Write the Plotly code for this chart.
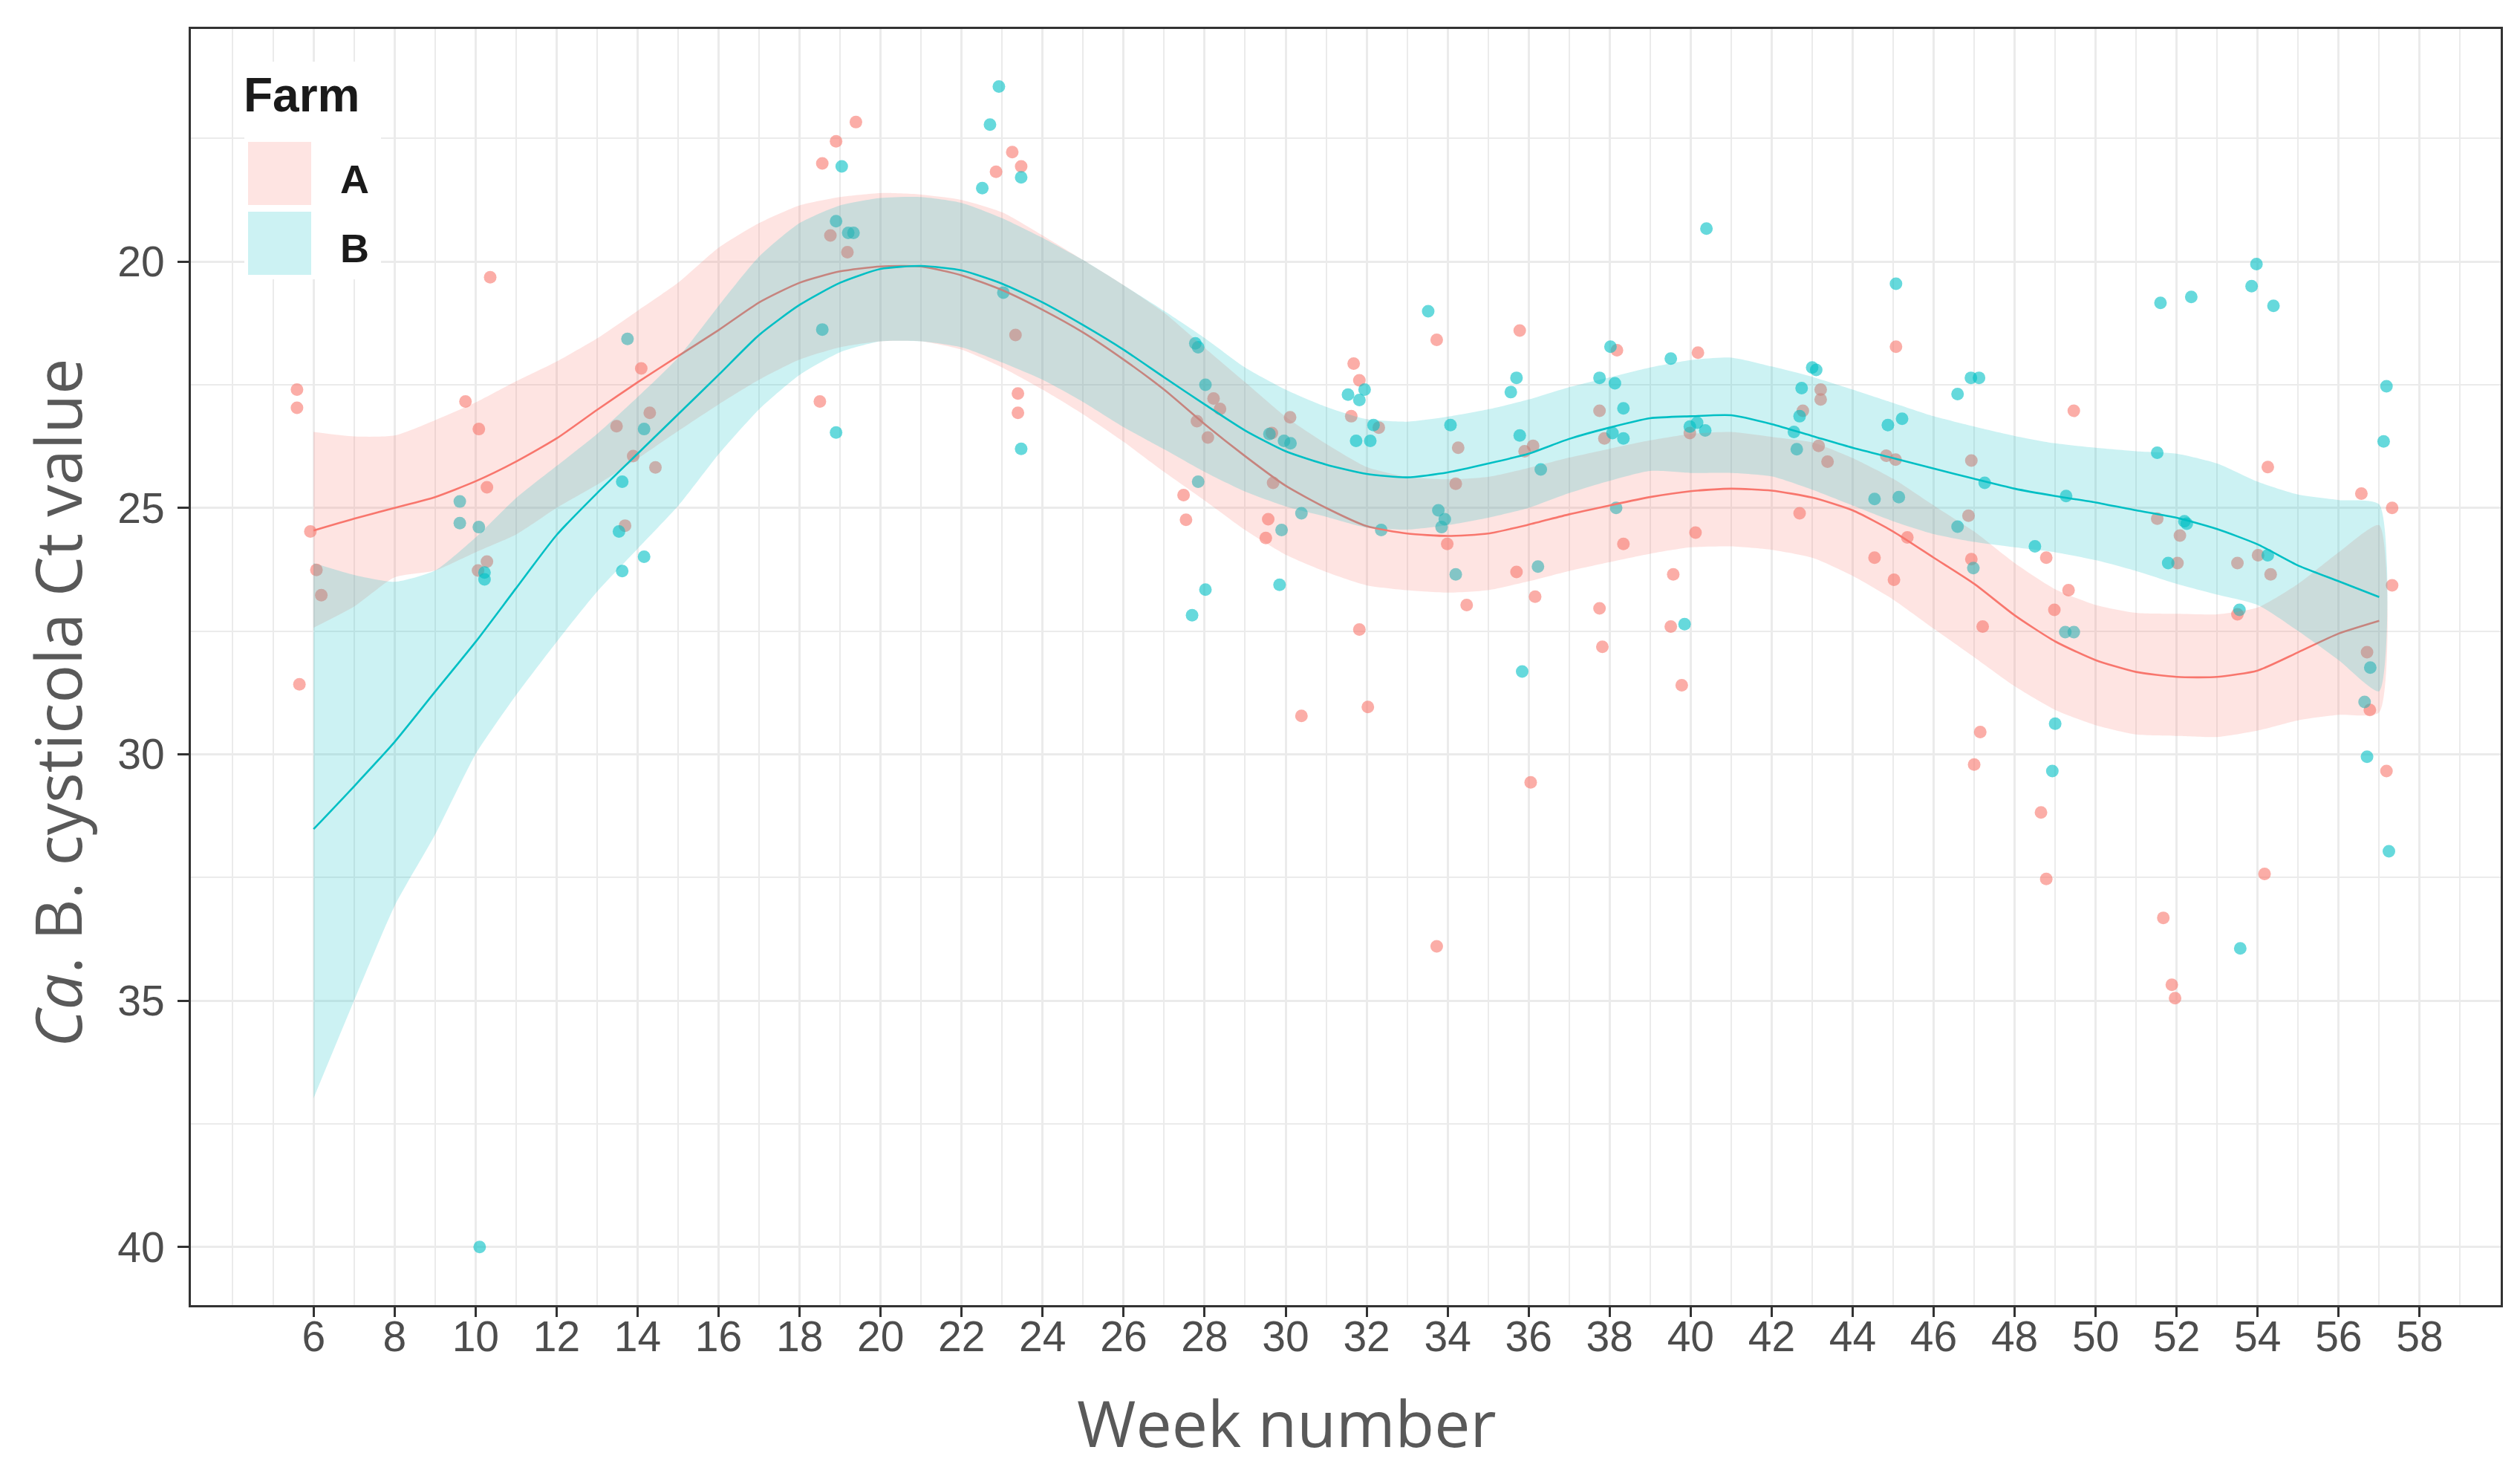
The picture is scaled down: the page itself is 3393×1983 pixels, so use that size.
import plotly.graph_objects as go

# ---------------- data ----------------
# jittered observations (week, Ct)
a_week = [5.59, 5.59, 5.65, 5.92, 6.07, 6.19,
          10.36, 9.75, 10.08, 10.28, 10.28, 10.06,
          14.09, 14.30, 13.48, 13.89, 14.44, 13.69,
          19.39, 18.90, 18.56, 18.76, 19.18, 18.50,
          23.25, 23.47, 22.85, 23.33, 23.39, 23.39,
          28.22, 28.38, 27.81, 28.08, 27.48, 27.54,
          29.66, 30.11, 29.69, 29.57, 29.51, 30.39,
          31.68, 31.82, 31.62, 32.30, 31.82, 32.03,
          33.73, 34.26, 34.20, 33.99, 34.47, 33.73,
          35.78, 35.90, 36.11, 35.70, 36.16, 36.05,
          38.18, 37.75, 37.87, 38.34, 37.75, 37.82,
          40.18, 39.98, 40.12, 39.57, 39.51, 39.78,
          43.21, 43.21, 42.77, 43.16, 43.38, 42.69,
          45.07, 44.83, 45.06, 45.35, 44.54, 45.02,
          46.93, 46.86, 46.93, 47.21, 47.15, 47.00,
          49.46, 48.78, 49.33, 48.98, 48.65, 48.78,
          51.52, 52.08, 52.02, 51.67, 51.88, 51.96,
          54.25, 53.50, 54.01, 54.32, 53.50, 54.17,
          56.56, 57.32, 57.32, 56.70, 56.77, 57.18]
a_ct = [22.60, 22.97, 28.58, 25.48, 26.26, 26.77,
        20.32, 22.84, 23.40, 24.58, 26.09, 26.27,
        22.17, 23.07, 23.34, 23.95, 24.18, 25.36,
        17.17, 17.56, 18.01, 19.47, 19.81, 22.84,
        17.78, 18.07, 18.18, 21.49, 22.68, 23.07,
        22.78, 22.99, 23.24, 23.57, 24.74, 25.24,
        23.48, 23.16, 24.49, 25.23, 25.61, 29.22,
        22.07, 22.41, 23.14, 23.37, 27.47, 29.04,
        21.59, 23.78, 24.51, 25.73, 26.97, 33.90,
        21.40, 23.85, 23.74, 26.30, 26.80, 30.57,
        21.80, 23.03, 23.59, 25.73, 27.04, 27.82,
        21.85, 23.48, 25.50, 26.35, 27.41, 28.60,
        22.60, 22.80, 23.03, 23.74, 24.06, 25.11,
        21.73, 23.94, 24.02, 25.60, 26.01, 26.46,
        24.04, 25.16, 26.04, 27.41, 29.55, 30.21,
        23.03, 26.01, 26.67, 27.07, 31.18, 32.53,
        25.22, 25.56, 26.12, 33.32, 34.68, 34.95,
        24.17, 26.12, 25.96, 26.35, 27.16, 32.43,
        24.71, 25.00, 26.57, 27.93, 29.10, 30.34]

b_week = [10.10, 9.61, 9.61, 10.08, 10.22, 10.22,
          13.75, 14.16, 13.62, 13.54, 14.16, 13.62,
          19.04, 18.90, 19.20, 19.33, 18.56, 18.90,
          22.92, 22.70, 23.47, 22.51, 23.03, 23.47,
          27.77, 27.84, 28.02, 27.84, 28.02, 27.69,
          29.60, 29.96, 30.12, 29.90, 30.39, 29.85,
          31.54, 31.95, 31.82, 32.17, 31.74, 32.09, 32.36,
          33.52, 34.07, 33.77, 33.93, 33.85, 34.20,
          35.70, 35.56, 35.78, 36.30, 36.23, 35.84,
          38.02, 37.75, 38.13, 38.34, 38.07, 38.34, 38.16,
          40.39, 39.51, 39.98, 40.16, 40.36, 39.85,
          43.00, 43.10, 42.74, 42.69, 42.55, 42.62,
          45.07, 44.87, 45.22, 44.54, 45.14,
          46.59, 46.92, 47.12, 47.26, 46.59, 46.98,
          49.27, 48.50, 49.25, 49.46, 49.00, 48.93,
          51.60, 52.36, 51.52, 52.19, 52.25, 51.79,
          53.97, 53.85, 54.39, 54.25, 53.55, 53.57,
          57.18, 57.11, 56.78, 56.64, 56.70, 57.24]
b_ct = [40.00, 24.87, 25.31, 25.39, 26.31, 26.45,
        21.57, 23.40, 24.47, 25.48, 25.99, 26.28,
        18.07, 19.18, 19.42, 19.42, 21.38, 23.47,
        16.45, 17.22, 18.29, 18.51, 20.63, 23.80,
        21.66, 21.74, 22.50, 24.47, 26.66, 27.18,
        23.50, 23.64, 23.69, 25.45, 25.11, 26.56,
        22.70, 22.60, 22.81, 23.32, 23.64, 23.64, 25.45,
        21.01, 23.32, 25.05, 25.23, 25.39, 26.35,
        22.36, 22.65, 23.53, 24.22, 26.19, 28.32,
        21.73, 22.36, 22.47, 22.98, 23.48, 23.59, 25.00,
        19.33, 21.97, 23.35, 23.27, 23.43, 27.36,
        22.15, 22.20, 22.57, 23.14, 23.46, 23.81,
        20.45, 23.32, 23.19, 24.82, 24.78,
        22.69, 22.36, 22.36, 24.49, 25.38, 26.22,
        24.76, 25.78, 27.52, 27.52, 29.38, 30.34,
        20.84, 20.72, 23.88, 25.27, 25.32, 26.12,
        20.05, 20.50, 20.90, 25.96, 27.07, 33.94,
        22.53, 23.65, 28.24, 28.94, 30.05, 31.97]

# loess fits (week grid, fit, lower/upper edge of CI)
fit_week = list(range(6, 58))
a_fit = [25.46, 25.22, 25.00, 24.78, 24.46, 24.06, 23.59, 23.01, 22.45, 21.92,
         21.39, 20.83, 20.43, 20.20, 20.10, 20.10, 20.28, 20.58, 20.98, 21.44,
         21.99, 22.60, 23.30, 23.95, 24.55, 25.00, 25.37, 25.52, 25.57, 25.52,
         25.34, 25.13, 24.95, 24.78, 24.66, 24.61, 24.65, 24.79, 25.05, 25.48,
         26.01, 26.54, 27.18, 27.71, 28.09, 28.33, 28.43, 28.43, 28.30, 27.93,
         27.55, 27.29]
a_lo = [23.46, 23.55, 23.53, 23.22, 22.86, 22.43, 22.03, 21.56, 21.00, 20.43,
        19.72, 19.22, 18.86, 18.69, 18.61, 18.64, 18.75, 19.00, 19.47, 19.97,
        20.48, 21.04, 21.75, 22.45, 23.15, 23.70, 24.17, 24.37, 24.42, 24.37,
        24.19, 23.98, 23.80, 23.63, 23.50, 23.46, 23.56, 23.67, 23.99, 24.41,
        24.95, 25.48, 26.12, 26.65, 26.97, 27.13, 27.15, 27.16, 27.02, 26.54,
        25.90, 25.35]
a_hi = [27.43, 27.00, 26.41, 26.27, 25.90, 25.54, 25.00, 24.53, 24.00, 23.44,
        22.90, 22.40, 21.99, 21.74, 21.62, 21.62, 21.79, 22.15, 22.60, 23.10,
        23.66, 24.27, 24.85, 25.45, 25.95, 26.30, 26.57, 26.67, 26.72, 26.67,
        26.49, 26.28, 26.10, 25.93, 25.80, 25.78, 25.85, 26.01, 26.38, 26.86,
        27.45, 28.03, 28.62, 29.10, 29.41, 29.60, 29.63, 29.65, 29.52, 29.31,
        29.20, 29.15]

b_fit = [31.52, 30.65, 29.75, 28.73, 27.72, 26.63, 25.55, 24.70, 23.90, 23.10,
         22.30, 21.49, 20.88, 20.43, 20.15, 20.09, 20.18, 20.45, 20.83, 21.29,
         21.79, 22.35, 22.90, 23.43, 23.85, 24.12, 24.31, 24.38, 24.28, 24.10,
         23.90, 23.60, 23.37, 23.18, 23.14, 23.12, 23.30, 23.54, 23.78, 23.99,
         24.20, 24.41, 24.61, 24.76, 24.89, 25.05, 25.20, 25.43, 25.74, 26.17,
         26.49, 26.81]
b_lo = [26.12, 26.36, 26.50, 26.27, 25.60, 24.80, 24.15, 23.50, 22.75, 21.95,
        20.90, 19.90, 19.22, 18.86, 18.71, 18.69, 18.81, 19.12, 19.52, 19.97,
        20.48, 21.00, 21.55, 22.15, 22.60, 22.95, 23.20, 23.25, 23.15, 23.00,
        22.80, 22.55, 22.35, 22.15, 22.00, 21.95, 22.13, 22.34, 22.60, 22.87,
        23.14, 23.35, 23.54, 23.69, 23.78, 23.85, 23.90, 24.10, 24.47, 24.73,
        24.84, 24.93]
b_hi = [36.98, 35.00, 33.08, 31.63, 30.00, 28.80, 27.72, 26.70, 25.83, 24.96,
        23.91, 23.00, 22.30, 21.84, 21.62, 21.62, 21.74, 22.05, 22.40, 22.85,
        23.36, 23.81, 24.27, 24.67, 24.97, 25.18, 25.40, 25.44, 25.35, 25.20,
        25.00, 24.70, 24.45, 24.25, 24.29, 24.29, 24.36, 24.63, 24.95, 25.27,
        25.53, 25.69, 25.80, 25.90, 26.06, 26.28, 26.54, 26.76, 26.97, 27.50,
        28.09, 28.72]

x_ticks = list(range(6, 59, 2))
x_minor = list(range(4, 61))
y_ticks = [20, 25, 30, 35, 40]
y_minor = [17.5, 22.5, 27.5, 32.5, 37.5]
farms = ["A", "B"]
colors = {"A": "#F8766D", "B": "#00BFC4"}
fills = {"A": "rgba(248,118,109,0.2)", "B": "rgba(0,191,196,0.2)"}

# ---------------- figure ----------------
fig = go.Figure()
pts = {"A": (a_week, a_ct), "B": (b_week, b_ct)}
for f in farms:
    fig.add_trace(go.Scatter(x=pts[f][0], y=pts[f][1], mode="markers",
                             marker=dict(color=colors[f], size=17, opacity=0.6,
                                         line=dict(width=0)),
                             showlegend=False, hoverinfo="skip"))

fits = {"A": (a_fit, a_lo, a_hi), "B": (b_fit, b_lo, b_hi)}
for f in farms:
    fit, lo, hi = fits[f]
    fig.add_trace(go.Scatter(x=fit_week + fit_week[::-1], y=lo + hi[::-1],
                             mode="lines", fill="toself", fillcolor=fills[f],
                             line=dict(width=0, shape="spline", smoothing=0.6),
                             showlegend=False, hoverinfo="skip"))
    fig.add_trace(go.Scatter(x=fit_week, y=fit, mode="lines",
                             line=dict(color=colors[f], width=2.6,
                                       shape="spline", smoothing=0.6),
                             showlegend=False, hoverinfo="skip"))

W, H = 3393, 1983
L, R, T, B = 257, 26, 39, 226
pw, ph = W - L - R, H - T - B


def px(xo):
    return (xo - L) / pw


def py(yo):
    return 1 - (yo - T) / ph


tick_font = dict(family="Liberation Sans, Arial, sans-serif", size=57, color="#4D4D4D")
title_font = dict(family="Open Sans, sans-serif", size=86, color="#595959")

fig.update_layout(
    width=W, height=H,
    margin=dict(l=L, r=R, t=T, b=B),
    paper_bgcolor="white", plot_bgcolor="white",
    showlegend=False,
    xaxis=dict(range=[2.97, 60.0], tickmode="array", tickvals=x_ticks,
               ticktext=[str(v) for v in x_ticks],
               showgrid=True, gridcolor="#EBEBEB", gridwidth=3,
               minor=dict(tickvals=x_minor, showgrid=True, gridcolor="#EBEBEB",
                          gridwidth=2, ticks=""),
               ticks="outside", ticklen=13, tickwidth=3, tickcolor="#333333",
               tickfont=tick_font, zeroline=False, ticklabelstandoff=-22,
               showline=True, linecolor="#333333", linewidth=3, mirror=True),
    yaxis=dict(range=[41.18, 15.28], tickmode="array", tickvals=y_ticks,
               ticktext=[str(v) for v in y_ticks],
               showgrid=True, gridcolor="#EBEBEB", gridwidth=3,
               minor=dict(tickvals=y_minor, showgrid=True, gridcolor="#EBEBEB",
                          gridwidth=2, ticks=""),
               ticks="outside", ticklen=15, tickwidth=3, tickcolor="#333333",
               tickfont=tick_font, zeroline=False, ticklabelstandoff=6,
               showline=True, linecolor="#333333", linewidth=3, mirror=True),
)

# axis titles
fig.add_annotation(xref="paper", yref="paper", x=px(1732), y=py(1914),
                   text="Week number", showarrow=False, xanchor="center",
                   yanchor="middle", font=title_font)
fig.add_annotation(xref="paper", yref="paper", x=px(76), y=py(946),
                   text="<i>Ca</i>. B. cysticola Ct value", showarrow=False,
                   textangle=-90, xanchor="center", yanchor="middle", font=title_font)

# legend drawn manually (ggplot style fill keys)
fig.add_shape(type="rect", xref="paper", yref="paper",
              x0=px(329), x1=px(513), y0=py(376), y1=py(83),
              fillcolor="white", line=dict(width=0), layer="above")
key_rows = {"A": (191, 276), "B": (285, 370)}
for f in farms:
    y_top, y_bot = key_rows[f]
    fig.add_shape(type="rect", xref="paper", yref="paper",
                  x0=px(334), x1=px(419), y0=py(y_bot), y1=py(y_top),
                  fillcolor=fills[f], line=dict(width=0), layer="above")
    fig.add_annotation(xref="paper", yref="paper", x=px(456),
                       y=py((y_top + y_bot) / 2 + 7),
                       text=f"<b>{f}</b>", showarrow=False, xanchor="left", yanchor="middle",
                       font=dict(family="Liberation Sans, Arial, sans-serif", size=54,
                                 color="#1A1A1A"))
fig.add_annotation(xref="paper", yref="paper", x=px(326), y=py(128),
                   text="<b>Farm</b>", showarrow=False, xanchor="left", yanchor="middle",
                   font=dict(family="Liberation Sans, Arial, sans-serif", size=64,
                             color="#1A1A1A"))

fig.write_html("out.html", config={"displayModeBar": False},
               post_script="document.body.style.margin='0';")
